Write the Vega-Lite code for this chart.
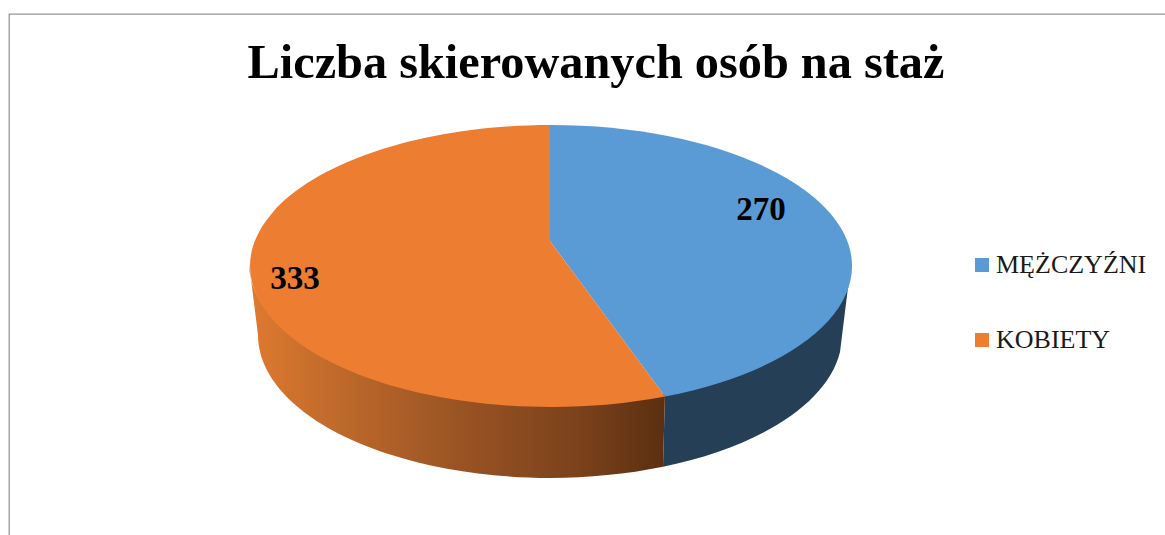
{
  "$schema": "https://vega.github.io/schema/vega-lite/v6.json",
  "width": 1158,
  "height": 523,
  "autosize": "none",
  "padding": {"left": 9, "top": 14, "right": 0, "bottom": 0},
  "background": "white",
  "view": {"stroke": "#979797", "strokeWidth": 1.3},
  "title": {"text": "Liczba skierowanych osób na staż", "font": "Liberation Serif", "fontWeight": "bold", "fontSize": 48.3, "color": "#000000", "anchor": "middle", "orient": "top", "offset": -74, "dx": 8},
  "data": {"values": [
    {"plec": "MĘŻCZYŹNI", "liczba": 270},
    {"plec": "KOBIETY", "liczba": 333}
  ]},
  "layer": [
    {
      "mark": {"type": "point", "filled": true, "opacity": 1, "size": 196, "shape": "square", "stroke": null},
      "encoding": {
        "color": {"field": "plec", "type": "nominal",
          "scale": {"domain": ["MĘŻCZYŹNI", "KOBIETY"], "range": ["#5B9BD5", "#ED7D31"]},
          "legend": {"title": null, "orient": "none", "legendX": 960, "legendY": 238, "padding": 0,
            "symbolType": "square", "symbolSize": 196, "symbolStrokeWidth": 0,
            "labelFont": "Liberation Serif", "labelFontSize": 26, "labelColor": "#1a1a1a",
            "labelOffset": 1, "rowPadding": 49, "labelLimit": 300}}
      }
    },
    {
      "transform": [{"filter": "datum.plec === 'MĘŻCZYŹNI'"}],
      "mark": {"type": "point", "filled": true, "opacity": 1, "size": 4, "fill": "#243F56", "stroke": null,
        "shape": "M77,118A301,141,0,0,0,263,-12.5L252,76.5A292,143,0,0,1,75,191.3Z"},
      "encoding": {}
    },
    {
      "transform": [{"filter": "datum.plec === 'KOBIETY'"}],
      "mark": {"type": "point", "filled": true, "opacity": 1, "size": 4, "stroke": null,
        "fill": {"gradient": "linear", "x1": 0, "y1": 0, "x2": 1, "y2": 0, "stops": [
          {"offset": 0, "color": "#E07A30"},
          {"offset": 0.15, "color": "#C76E2C"},
          {"offset": 0.5, "color": "#9A5424"},
          {"offset": 0.8, "color": "#7A411B"},
          {"offset": 1, "color": "#5B2F11"}
        ]},
        "shape": "M77,118A301,141,0,0,1,-339,-12.5L-330,59.5A292,143,0,0,0,75,191.3Z"},
      "encoding": {}
    },
    {
      "transform": [{"filter": "datum.plec === 'MĘŻCZYŹNI'"}],
      "mark": {"type": "point", "filled": true, "opacity": 1, "size": 4, "stroke": null,
        "shape": "M-38,-34.5L-38,-150.5A301,141,0,0,1,77,121Z"},
      "encoding": {"color": {"field": "plec", "type": "nominal", "legend": null}}
    },
    {
      "transform": [{"filter": "datum.plec === 'KOBIETY'"}],
      "mark": {"type": "point", "filled": true, "opacity": 1, "size": 4, "stroke": null,
        "shape": "M-38,-34.5L77,121A301,141,0,1,1,-38,-150.5Z"},
      "encoding": {"color": {"field": "plec", "type": "nominal", "legend": null}}
    },
    {
      "transform": [{"filter": "datum.plec === 'MĘŻCZYŹNI'"}],
      "mark": {"type": "text", "font": "Liberation Serif", "fontWeight": "bold", "fontSize": 33, "color": "#000000", "dx": 173, "dy": -65.5, "baseline": "middle"},
      "encoding": {"text": {"field": "liczba", "type": "quantitative"}}
    },
    {
      "transform": [{"filter": "datum.plec === 'KOBIETY'"}],
      "mark": {"type": "text", "font": "Liberation Serif", "fontWeight": "bold", "fontSize": 33, "color": "#000000", "dx": -293, "dy": 3.5, "baseline": "middle"},
      "encoding": {"text": {"field": "liczba", "type": "quantitative"}}
    }
  ]
}
